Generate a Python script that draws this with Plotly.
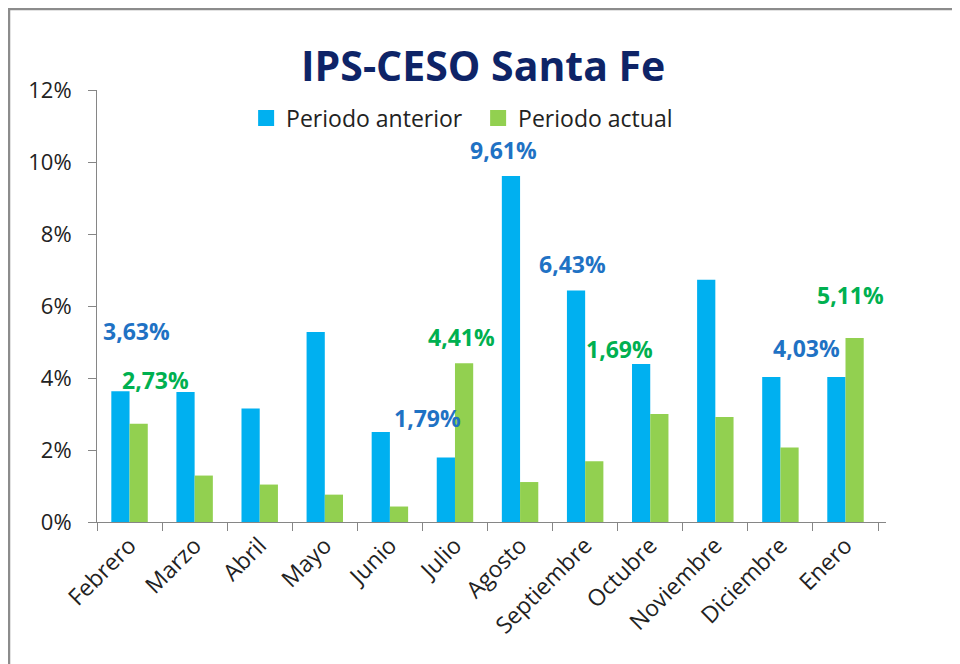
import plotly.graph_objects as go

categories = ["Febrero", "Marzo", "Abril", "Mayo", "Junio", "Julio", "Agosto",
              "Septiembre", "Octubre", "Noviembre", "Diciembre", "Enero"]
periodo_anterior = [3.63, 3.61, 3.15, 5.28, 2.50, 1.79, 9.61, 6.43, 4.39, 6.73, 4.03, 4.03]
periodo_actual = [2.73, 1.29, 1.04, 0.76, 0.43, 4.41, 1.11, 1.69, 3.00, 2.92, 2.07, 5.11]
y_ticks = [0, 2, 4, 6, 8, 10, 12]

# labelled points: (category index, series, xshift px, yshift px)
labels = [
    (0, "ant", 7, 60),
    (0, "act", 26, 44),
    (5, "ant", -27, 40),
    (5, "act", 7, 26),
    (6, "ant", -17, 26),
    (7, "ant", -13, 27),
    (7, "act", 34, 112),
    (10, "ant", 26, 29),
    (11, "act", 5, 43),
]

BLUE = "#00B0F0"
GREEN = "#92D050"
BLUE_TXT = "#1F72C4"
GREEN_TXT = "#00B050"
AXIS = "#868686"
FONT = "Open Sans, Noto Sans, sans-serif"

# the page body adds an 8px margin, so the figure is 8px smaller on each side
W, H = 952, 656
L, R, T, B = 89, 74, 82, 142
PW, PH = W - L - R, H - T - B

fig = go.Figure()
fig.add_trace(go.Bar(x=categories, y=periodo_anterior, name="Periodo anterior",
                     marker=dict(color=BLUE, line=dict(width=0)), showlegend=False))
fig.add_trace(go.Bar(x=categories, y=periodo_actual, name="Periodo actual",
                     marker=dict(color=GREEN, line=dict(width=0)), showlegend=False))
# legend entries with larger square swatches
for name, col in [("Periodo anterior", BLUE), ("Periodo actual", GREEN)]:
    fig.add_trace(go.Scatter(x=[None], y=[None], mode="markers", name=name,
                             marker=dict(symbol="square", size=16, color=col),
                             hoverinfo="skip"))

annotations = []
for idx, series, dx, dy in labels:
    vals = periodo_anterior if series == "ant" else periodo_actual
    v = vals[idx]
    annotations.append(dict(
        x=categories[idx], y=v, xref="x", yref="y",
        text=f"{v:.2f}".replace(".", ",") + "%",
        showarrow=False, xshift=dx, yshift=dy, yanchor="middle", xanchor="center",
        font=dict(family=FONT, size=23, color=BLUE_TXT if series == "ant" else GREEN_TXT, weight="bold"),
    ))

annotations.append(dict(
    text="<b>IPS-CESO Santa Fe</b>", xref="paper", yref="paper",
    x=(483 - 8 - L) / PW, y=(H - B - (65 - 8)) / PH, xanchor="center", yanchor="middle",
    showarrow=False,
    font=dict(family=FONT, size=41, color="#0E2467"),
))

fig.update_layout(
    width=W, height=H,
    margin=dict(l=L, r=R, t=T, b=B, autoexpand=False),
    paper_bgcolor="white", plot_bgcolor="white",
    barmode="group", bargap=0.44, bargroupgap=0,
    showlegend=True,
    legend=dict(orientation="h", x=0.189, y=0.935, xanchor="left", yanchor="middle",
                font=dict(family=FONT, size=23, color="#222"), bgcolor="rgba(0,0,0,0)",
                itemwidth=30, entrywidth=187, itemclick=False),
    annotations=annotations,
    font=dict(family=FONT, color="#222"),
)

fig.update_yaxes(range=[0, 12], tickvals=y_ticks, ticktext=[f"{t}%" for t in y_ticks],
                 showgrid=False, zeroline=False, showline=True, linecolor=AXIS, linewidth=1,
                 ticks="outside", ticklen=8, tickcolor=AXIS, ticklabelstandoff=12,
                 tickfont=dict(family=FONT, size=22, color="#222"))
fig.update_xaxes(showgrid=False, showline=True, linecolor=AXIS, linewidth=1,
                 ticks="outside", ticklen=8, tickcolor=AXIS, tickson="boundaries",
                 tickangle=-45, tickfont=dict(family=FONT, size=23, color="#222"))

# outer frame (extends past the right and bottom edges)
fig.add_shape(type="rect", xref="paper", yref="paper",
              x0=(9 - 8 - L) / PW, x1=(980 - L) / PW,
              y0=(H - B - 700) / PH, y1=(H - B - 1) / PH,
              line=dict(color="#8C8C8C", width=2.5), fillcolor="rgba(0,0,0,0)", layer="below")

fig.write_html("out.html")
